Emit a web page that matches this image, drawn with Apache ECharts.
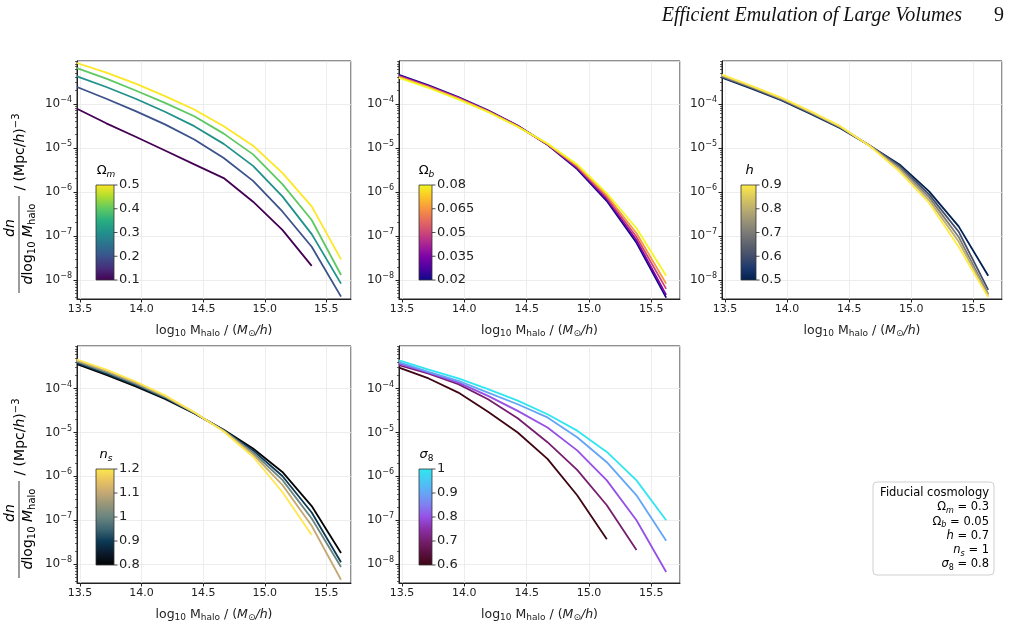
<!DOCTYPE html>
<html>
<head>
<meta charset="utf-8">
<script src="https://cdn.jsdelivr.net/npm/echarts@6/dist/echarts.min.js"></script>
<style>
  html, body { margin: 0; padding: 0; background: #fff; }
  #chart { width: 1016px; height: 628px; }
</style>
</head>
<body>
<div id="chart"></div>
<script>
// halo mass bin centres, log10 M_halo / (M_sun/h)
const massBins = [13.476, 13.714, 13.952, 14.19, 14.428, 14.667, 14.905, 15.143, 15.381, 15.619];

// dn/dlog10 M for each varied parameter (null = no halos in bin)
const omegaMValues = [0.1, 0.2, 0.3, 0.4, 0.5];
const omegaMCurves = [
  [7.7e-5, 3.6e-5, 1.78e-5, 8.7e-6, 4.2e-6, 2.06e-6, 6.0e-7, 1.38e-7, 2.1e-8, null],
  [2.4e-4, 1.3e-4, 6.8e-5, 3.4e-5, 1.55e-5, 5.9e-6, 1.78e-6, 3.6e-7, 5.7e-8, 4.2e-9],
  [4.2e-4, 2.4e-4, 1.3e-4, 6.6e-5, 3.1e-5, 1.23e-5, 3.9e-6, 7.9e-7, 1.1e-7, 8.3e-9],
  [6.4e-4, 3.7e-4, 2.0e-4, 1.05e-4, 5.2e-5, 2.1e-5, 7.1e-6, 1.5e-6, 2.3e-7, 1.3e-8],
  [8.4e-4, 5.1e-4, 2.86e-4, 1.49e-4, 7.4e-5, 3.1e-5, 1.12e-5, 2.7e-6, 4.7e-7, 2.95e-8]
];
const omegaBValues = [0.02, 0.035, 0.05, 0.065, 0.08];
const omegaBCurves = [
  [4.5e-4, 2.6e-4, 1.42e-4, 7.1e-5, 3.2e-5, 1.17e-5, 3.3e-6, 6.2e-7, 7.0e-8, 4.0e-9],
  [4.35e-4, 2.52e-4, 1.38e-4, 6.95e-5, 3.15e-5, 1.18e-5, 3.5e-6, 6.8e-7, 8.0e-8, 4.6e-9],
  [4.2e-4, 2.45e-4, 1.34e-4, 6.8e-5, 3.1e-5, 1.2e-5, 3.7e-6, 7.5e-7, 9.5e-8, 6.3e-9],
  [4.05e-4, 2.37e-4, 1.3e-4, 6.65e-5, 3.05e-5, 1.22e-5, 3.9e-6, 8.3e-7, 1.15e-7, 8.3e-9],
  [3.85e-4, 2.28e-4, 1.26e-4, 6.5e-5, 3.0e-5, 1.25e-5, 4.2e-6, 9.3e-7, 1.5e-7, 1.25e-8]
];
const hValues = [0.5, 0.6, 0.7, 0.8, 0.9];
const hCurves = [
  [3.9e-4, 2.2e-4, 1.2e-4, 5.9e-5, 2.8e-5, 1.12e-5, 4.2e-6, 1.03e-6, 1.65e-7, 1.25e-8],
  [4.05e-4, 2.3e-4, 1.24e-4, 6.1e-5, 2.88e-5, 1.12e-5, 3.9e-6, 8.8e-7, 1.25e-7, 6.0e-9],
  [4.2e-4, 2.38e-4, 1.29e-4, 6.3e-5, 2.95e-5, 1.11e-5, 3.6e-6, 7.6e-7, 9.5e-8, 4.8e-9],
  [4.4e-4, 2.47e-4, 1.33e-4, 6.5e-5, 3.02e-5, 1.1e-5, 3.25e-6, 6.5e-7, 7.5e-8, 4.4e-9],
  [4.6e-4, 2.55e-4, 1.38e-4, 6.7e-5, 3.1e-5, 1.09e-5, 2.9e-6, 5.6e-7, 5.7e-8, 4.1e-9]
];
const nsValues = [0.8, 0.9, 1.0, 1.1, 1.2];
const nsCurves = [
  [3.6e-4, 2.05e-4, 1.12e-4, 5.8e-5, 2.7e-5, 1.15e-5, 4.3e-6, 1.26e-6, 2.1e-7, 1.8e-8],
  [3.85e-4, 2.2e-4, 1.2e-4, 6.1e-5, 2.75e-5, 1.13e-5, 3.9e-6, 1.02e-6, 1.5e-7, 1.1e-8],
  [4.1e-4, 2.35e-4, 1.28e-4, 6.4e-5, 2.8e-5, 1.11e-5, 3.5e-6, 8.3e-7, 1.1e-7, 8.6e-9],
  [4.35e-4, 2.52e-4, 1.36e-4, 6.7e-5, 2.85e-5, 1.08e-5, 3.15e-6, 6.4e-7, 7.5e-8, 4.4e-9],
  [4.6e-4, 2.7e-4, 1.45e-4, 7.0e-5, 2.9e-5, 1.05e-5, 2.8e-6, 4.4e-7, 4.6e-8, null]
];
const sigma8Values = [0.6, 0.7, 0.8, 0.9, 1.0];
const sigma8Curves = [
  [3.0e-4, 1.7e-4, 8.1e-5, 2.96e-5, 1.0e-5, 2.5e-6, 3.7e-7, 3.7e-8, null, null],
  [3.4e-4, 2.2e-4, 1.26e-4, 5.7e-5, 2.1e-5, 6.0e-6, 1.4e-6, 2.2e-7, 2.1e-8, null],
  [3.7e-4, 2.3e-4, 1.37e-4, 6.8e-5, 3.1e-5, 1.3e-5, 3.9e-6, 8.1e-7, 1.0e-7, 6.6e-9],
  [4.0e-4, 2.4e-4, 1.5e-4, 8.1e-5, 4.4e-5, 2.2e-5, 7.8e-6, 2.1e-6, 3.7e-7, 3.4e-8],
  [4.4e-4, 2.7e-4, 1.7e-4, 9.7e-5, 5.3e-5, 2.6e-5, 1.1e-5, 3.6e-6, 8.1e-7, 1.0e-7]
];

// colorbar tick labels
const omegaMTicks = ['0.1', '0.2', '0.3', '0.4', '0.5'];
const omegaBTicks = ['0.02', '0.035', '0.05', '0.065', '0.08'];
const hTicks = ['0.5', '0.6', '0.7', '0.8', '0.9'];
const nsTicks = ['0.8', '0.9', '1', '1.1', '1.2'];
const sigma8Ticks = ['0.6', '0.7', '0.8', '0.9', '1'];

const fiducialLines = [
  '{r|Fiducial cosmology}',
  '{r|Ω}{si|m}{r| = 0.3}',
  '{r|Ω}{si|b}{r| = 0.05}',
  '{i|h}{r| = 0.7}',
  '{i|n}{si|s}{r| = 1}',
  '{i|σ}{s|8}{r| = 0.8}'
];

// colormaps
const viridis = ['#440154', '#472d7b', '#3b528b', '#2c728e', '#21918c', '#28ae80', '#5ec962', '#addc30', '#fde725'];
const plasma = ['#0d0887', '#4c02a1', '#7e03a8', '#a92395', '#cc4778', '#e56b5d', '#f89540', '#fdc527', '#f0f921'];
const cividis = ['#00204d', '#1b386d', '#414d6b', '#5f636e', '#7c7b78', '#9b9477', '#bcaf6f', '#ddcb5c', '#ffea46'];
const nsMap = ['#030303', '#0b1a2c', '#0c3a55', '#3f6673', '#6a8580', '#94957a', '#c4a874', '#e8c260', '#fde84d'];
const s8Map = ['#3d0612', '#5a1040', '#761e6e', '#8a30a8', '#9650e6', '#8080f0', '#64a6f6', '#48c8f4', '#30e6f0'];

function hex(c) { return [1, 3, 5].map(i => parseInt(c.substr(i, 2), 16)); }
function sample(cmap, t) {
  const p = t * (cmap.length - 1);
  const i = Math.min(Math.floor(p), cmap.length - 2);
  const f = p - i;
  const a = hex(cmap[i]), b = hex(cmap[i + 1]);
  return 'rgb(' + a.map((v, k) => Math.round(v + (b[k] - v) * f)).join(',') + ')';
}
function stops(cmap) {
  return cmap.map((c, i) => ({ offset: i / (cmap.length - 1), color: c }));
}

const Y_MIN = Math.pow(10, -8.43);
const Y_MAX = Math.pow(10, -3.03);
const X_MIN = 13.476;

const panels = [
  { grid: { left: 77, top: 61, width: 274, height: 238 }, xMax: 15.70, values: omegaMValues, curves: omegaMCurves,
    cmap: viridis, ticks: omegaMTicks, title: '{r|Ω}{si|m}', bar: { x: 96, y: 185, w: 18, h: 95 }, ylabel: true },
  { grid: { left: 399, top: 61, width: 281, height: 238 }, xMax: 15.73, values: omegaBValues, curves: omegaBCurves,
    cmap: plasma, ticks: omegaBTicks, title: '{r|Ω}{si|b}', bar: { x: 419, y: 185, w: 13, h: 95 } },
  { grid: { left: 722, top: 61, width: 280, height: 238 }, xMax: 15.73, values: hValues, curves: hCurves,
    cmap: cividis, ticks: hTicks, title: '{i|h}', bar: { x: 741, y: 185, w: 15, h: 95 } },
  { grid: { left: 77, top: 346, width: 274, height: 237 }, xMax: 15.70, values: nsValues, curves: nsCurves,
    cmap: nsMap, ticks: nsTicks, title: '{i|n}{si|s}', bar: { x: 96, y: 469, w: 18, h: 96 }, ylabel: true },
  { grid: { left: 399, top: 346, width: 281, height: 237 }, xMax: 15.73, values: sigma8Values, curves: sigma8Curves,
    cmap: s8Map, ticks: sigma8Ticks, title: '{i|σ}{s|8}', bar: { x: 419, y: 469, w: 13, h: 96 } }
];

const FONT = 'DejaVu Sans';
const TXT = '#222';
const mathRich = (size) => ({
  r: { fontFamily: FONT, fontSize: size, color: TXT, lineHeight: size + 4, verticalAlign: 'middle' },
  i: { fontFamily: FONT, fontSize: size, fontStyle: 'italic', color: TXT, lineHeight: size + 4, verticalAlign: 'middle' },
  s: { fontFamily: FONT, fontSize: Math.round(size * 0.7), color: TXT, lineHeight: size - 2, verticalAlign: 'bottom' },
  si: { fontFamily: FONT, fontSize: Math.round(size * 0.7), fontStyle: 'italic', color: TXT, lineHeight: size - 2, verticalAlign: 'bottom' },
  p: { fontFamily: FONT, fontSize: Math.round(size * 0.7), color: TXT, lineHeight: size - 2, verticalAlign: 'top' }
});

const minorLogs = [];
for (let n = -9; n <= -3; n++) {
  for (let k = 2; k <= 9; k++) {
    const v = Math.log10(k) + n;
    if (v > Math.log10(Y_MIN) && v < Math.log10(Y_MAX)) minorLogs.push(v);
  }
}

const grids = [], xAxes = [], yAxes = [], series = [], graphics = [];

panels.forEach((p, i) => {
  grids.push(Object.assign({ show: true, borderColor: '#222', borderWidth: 1, backgroundColor: '#fff' }, p.grid));
  xAxes.push({
    type: 'value', gridIndex: i, min: X_MIN, max: p.xMax, splitNumber: 5,
    axisLine: { show: true, onZero: false, lineStyle: { color: '#222', width: 1 } },
    axisTick: { show: true, length: 3.5, lineStyle: { color: '#222' } },
    axisLabel: { showMinLabel: false, showMaxLabel: false, margin: 5, fontFamily: FONT, fontSize: 11, color: TXT,
      formatter: v => v.toFixed(1) },
    splitLine: { show: true, lineStyle: { color: '#e9e9e9', width: 0.8 } },
    name: '{r|log}{s|10}{r| M}{s|halo}{r| / (}{i|M}{s|⊙}{i|/h}{r|)}',
    nameLocation: 'middle', nameGap: 23,
    nameTextStyle: { rich: mathRich(12.5) }
  });
  yAxes.push({
    type: 'log', logBase: 10, gridIndex: i, position: 'left', min: Y_MIN, max: Y_MAX,
    axisLine: { show: true, lineStyle: { color: '#222', width: 1 } },
    axisTick: { show: true, length: 3.5, lineStyle: { color: '#222' } },
    axisLabel: { showMinLabel: false, showMaxLabel: false, margin: 5,
      formatter: v => '{r|10}{p|−' + Math.abs(Math.round(Math.log10(v))) + '}',
      rich: mathRich(12) },
    splitLine: { show: true, lineStyle: { color: '#e9e9e9', width: 0.8 } }
  });
  yAxes.push({
    type: 'value', gridIndex: i, position: 'left', offset: 0, min: Math.log10(Y_MIN), max: Math.log10(Y_MAX),
    axisLine: { show: false },
    axisTick: { show: true, length: 2, customValues: minorLogs, lineStyle: { color: '#222', width: 0.7 } },
    axisLabel: { show: false },
    splitLine: { show: false }
  });

  p.curves.forEach((curve, j) => {
    const t = (p.values[j] - p.values[0]) / (p.values[p.values.length - 1] - p.values[0]);
    const pts = [];
    curve.forEach((v, k) => { if (v !== null) pts.push([massBins[k], v]); });
    series.push({
      type: 'line', xAxisIndex: i, yAxisIndex: 2 * i, data: pts, showSymbol: false, silent: true,
      lineStyle: { width: 1.8, color: sample(p.cmap, t) }, z: 2 + j
    });
  });

  // colorbar
  const b = p.bar;
  graphics.push({
    type: 'rect', shape: { x: b.x, y: b.y, width: b.w, height: b.h }, z: 100,
    style: { fill: { type: 'linear', x: 0, y: 1, x2: 0, y2: 0, colorStops: stops(p.cmap) }, stroke: '#333', lineWidth: 0.8 }
  });
  p.ticks.forEach((lab, k) => {
    const y = b.y + b.h - k * b.h / (p.ticks.length - 1);
    graphics.push({ type: 'line', shape: { x1: b.x + b.w, y1: y, x2: b.x + b.w + 3.5, y2: y }, z: 100,
      style: { stroke: '#222', lineWidth: 0.8 } });
    graphics.push({ type: 'text', x: b.x + b.w + 5, y: y, z: 100,
      style: { text: lab, fontFamily: FONT, fontSize: 13, fill: TXT, align: 'left', verticalAlign: 'middle' } });
  });
  graphics.push({ type: 'text', x: b.x + b.w / 2 + 1, y: b.y - 14, z: 100,
    style: { text: p.title, rich: mathRich(13), align: 'center', verticalAlign: 'middle' } });

  // y label on the left column
  if (p.ylabel) {
    const top = p.grid.top;
    graphics.push({ type: 'text', x: 10, y: top + 167, rotation: Math.PI / 2, z: 100,
      style: { text: '{i|dn}', rich: mathRich(14), align: 'center', verticalAlign: 'middle' } });
    graphics.push({ type: 'line', shape: { x1: 19, y1: top + 135, x2: 19, y2: top + 232 }, z: 100,
      style: { stroke: '#222', lineWidth: 0.9 } });
    graphics.push({ type: 'text', x: 28, y: top + 183, rotation: Math.PI / 2, z: 100,
      style: { text: '{i|d}{r|log}{s|10}{i| M}{s|halo}', rich: mathRich(14), align: 'center', verticalAlign: 'middle' } });
    graphics.push({ type: 'text', x: 20, y: top + 91, rotation: Math.PI / 2, z: 100,
      style: { text: '{r|/ (Mpc/}{i|h}{r|)}{p|−3}', rich: mathRich(14), align: 'center', verticalAlign: 'middle' } });
  }
});

// fiducial box
graphics.push({ type: 'rect', shape: { x: 873, y: 482, width: 121, height: 93, r: 4 }, z: 100,
  style: { fill: '#fff', stroke: '#cfcfcf', lineWidth: 1 } });
fiducialLines.forEach((t, k) => {
  graphics.push({ type: 'text', x: 989, y: 493 + k * 14.3, z: 101,
    style: { text: t, rich: mathRich(11.5), align: 'right', verticalAlign: 'middle' } });
});

// page header
graphics.push({ type: 'text', x: 962, y: 16, z: 100,
  style: { text: 'Efficient Emulation of Large Volumes', fontFamily: 'Liberation Serif', fontStyle: 'italic',
    fontSize: 20, fill: '#111', align: 'right', verticalAlign: 'middle' } });
graphics.push({ type: 'text', x: 1004, y: 16, z: 100,
  style: { text: '9', fontFamily: 'Liberation Serif', fontSize: 20, fill: '#111', align: 'right', verticalAlign: 'middle' } });

const chart = echarts.init(document.getElementById('chart'), null, { renderer: 'canvas' });
chart.setOption({
  animation: false,
  backgroundColor: '#fff',
  grid: grids,
  xAxis: xAxes,
  yAxis: yAxes,
  series: series,
  graphic: graphics
});
</script>
</body>
</html>
